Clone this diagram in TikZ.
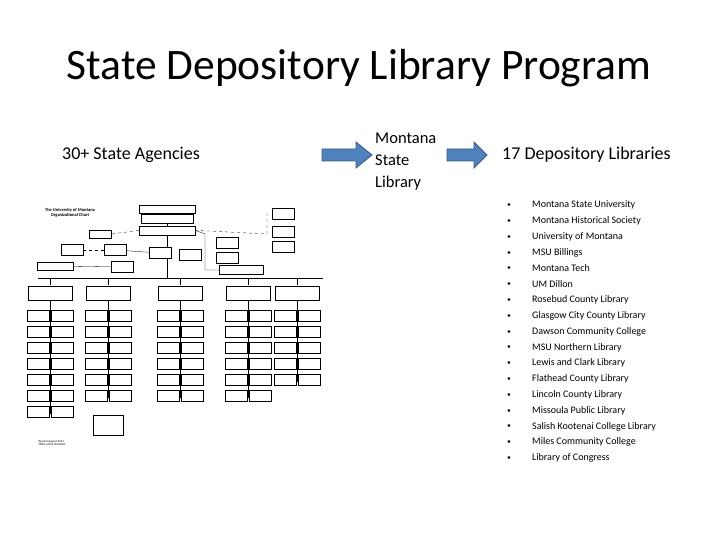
\documentclass[tikz,border=0pt]{standalone}
\usepackage{fontspec}
\setmainfont{Carlito}
\usetikzlibrary{positioning}
\definecolor{arrowblue}{RGB}{79,129,189}
\definecolor{arrowedge}{RGB}{56,93,138}
\begin{document}
\begin{tikzpicture}[x=1pt,y=-1pt]

    \tikzstyle{head} = [anchor=west, inner sep=0pt, font=\fontsize{18}{20}\selectfont]
    \tikzstyle{lib} = [anchor=west, inner sep=0pt, font=\fontsize{10}{11}\selectfont]
    \tikzstyle{org} = [draw, line width=0.4pt, fill=white, minimum width=22pt, minimum height=11pt, inner sep=0pt]
    \tikzstyle{blk} = [draw=arrowedge, fill=arrowblue, line width=0.8pt]

    \useasboundingbox (0,0) rectangle (720,540);

    \node (title) at (359,68) {\fontsize{43.5}{48}\selectfont State Depository Library Program};

    \node[head] (agencies) at (62,155) {30+ State Agencies};
    \node[anchor=west, inner sep=0pt, align=left, font=\fontsize{16.5}{22}\selectfont] (msl) at (375,162) {Montana\\State\\Library};
    \node[head] (deplib) at (502,155) {17 Depository Libraries};

    % arrows
    \draw[blk] (322,149) -- (356,149) -- (356,142) -- (372,155) -- (356,168) -- (356,161) -- (322,161) -- cycle;
    \draw[blk] (447,149) -- (474,149) -- (474,142) -- (487,155) -- (474,168) -- (474,161) -- (447,161) -- cycle;

    % libraries
    \foreach \t [count=\i] in {Montana State University, Montana Historical Society, University of Montana, MSU Billings, Montana Tech, UM Dillon, Rosebud County Library, Glasgow City County Library, Dawson Community College, MSU Northern Library, Lewis and Clark Library, Flathead County Library, Lincoln County Library, Missoula Public Library, Salish Kootenai College Library, Miles Community College, Library of Congress}
      \node[lib] (lib\i) at (532,189.5+15.8*\i) {\t};
    \foreach \i in {1,...,17}
      \node[inner sep=0pt, font=\fontsize{6}{6}\selectfont] at (509,189.5+15.8*\i) {$\bullet$};

    % organisational chart
    \node[align=center, inner sep=0pt, font=\fontsize{4.5}{5}\bfseries\selectfont] (octitle) at (70,213) {The University of Montana\\Organizational Chart};
    \node[org, minimum width=56pt, minimum height=8pt] (regents) at (167,209) {};
    \node[org, minimum width=52pt, minimum height=9pt, below=1pt of regents] (commish) {};
    \node[org, minimum width=56pt, minimum height=9pt, below=2pt of commish] (pres) {};
    \draw (regents) -- (commish) -- (pres);
    \draw (pres.south) -- (167,278);
    \draw (38,278) -- (323,278);
    \draw[dashed, line width=0.3pt] (pres.west) -- (112,234);
    \node[org, minimum height=8pt] (aa) at (100,234) {};
    \draw[dashed, line width=0.3pt] (pres.east) -- (267,234) -- (267,212);
    \node[org] (s1) at (283,214) {};
    \node[org] (s2) at (283,232) {};
    \node[org] (s3) at (283,247) {};
    \draw[line width=0.3pt] (pres.east) -- (205,234) -- (205,270) -- (225,270);
    \node[org] (r1) at (227,243) {};
    \node[org] (r2) at (227,258) {};
    \node[org, minimum width=44pt, minimum height=9pt] (r3) at (241,270) {};
    \node[org] (l1) at (72,250) {};
    \node[org] (l2) at (115,250) {};
    \node[org] (l3) at (122,267) {};
    \node[org] (l4) at (160,253) {};
    \node[org] (l5) at (190,255) {};
    \node[org, minimum width=36pt, minimum height=8pt] (l6) at (55,266) {};
    \draw[dashed, line width=0.3pt] (l1) -- (l2);
    \draw[line width=0.3pt] (l2) -- (l4) (l6) -- (l3);

    \foreach \cx/\n in {50/7, 108/6, 180/6, 248/6, 297/5} {
      \draw (\cx,278) -- (\cx,285);
      \node[org, minimum width=44pt, minimum height=14pt] at (\cx,293) {};
      \draw (\cx,300) -- (\cx,302+16*\n);
      \foreach \k in {1,...,\n} {
        \node[org] at (\cx-12,300+16*\k) {};
        \node[org] at (\cx+12,300+16*\k) {};
      }
    }
    \node[org, minimum width=30pt, minimum height=20pt] (health) at (108,425) {};
    \node[align=left, inner sep=0pt, font=\fontsize{3}{3.5}\itshape\selectfont] (rev) at (52,443) {Revised August 2014\\Office of the President};
\end{tikzpicture}
\end{document}
